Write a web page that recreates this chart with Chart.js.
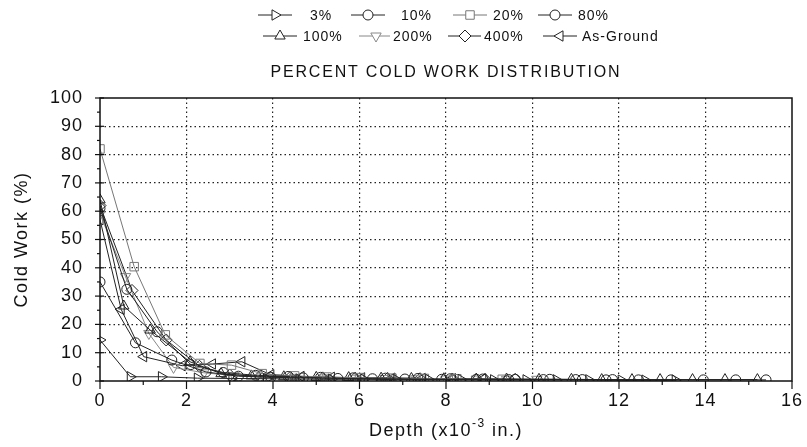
<!DOCTYPE html>
<html>
<head>
<meta charset="utf-8">
<script src="https://cdn.jsdelivr.net/npm/chart.js@4/dist/chart.umd.min.js"></script>
<style>
  body { margin: 0; background: #fff; }
  #wrap { width: 807px; height: 447px; }
</style>
</head>
<body>
<div id="wrap"><canvas id="chart" width="807" height="447"></canvas></div>
<script>
// depth (x10^-3 in.), cold work (%) pairs
const cw3 = [[0,14.5],[0.7,1.5],[1.42,1.5],[2.25,1.0],[3.05,0.9],[3.85,0.8],[4.6,0.7],[5.35,0.6],[6.1,0.6],[6.85,0.5],[7.6,0.5],[8.35,0.5],[9.1,0.4],[9.85,0.4],[10.55,0.4],[11.3,0.4],[12.05,0.3],[12.6,0.3],[13.3,0.3]];
const cw10 = [[0,35],[0.82,13.5],[1.66,7.4],[2.45,3.2],[3.2,1.7],[3.95,1.3],[4.7,1.1],[5.5,0.9],[6.3,0.8],[7.05,0.7],[7.9,0.6],[8.7,0.6],[9.45,0.5],[10.25,0.5],[11.0,0.5],[11.7,0.4],[12.45,0.4],[13.2,0.4],[13.95,0.4],[14.7,0.4],[15.4,0.4]];
const cw20 = [[0,82],[0.79,40.4],[1.51,16.3],[2.31,6.2],[3.04,5.6],[3.75,2.6],[4.5,1.8],[5.25,1.4],[6.0,1.2],[6.75,1.0],[7.5,0.9],[8.25,0.8],[9.3,0.6]];
const cw80 = [[0,61],[0.62,32.4],[1.32,17.4],[2.1,5.8],[2.85,3.0],[3.6,2.0],[4.35,1.6],[5.1,1.3],[5.85,1.1],[6.6,1.0],[7.35,0.9],[8.1,0.8],[8.85,0.7],[9.6,0.6],[10.4,0.6],[11.15,0.5],[11.85,0.5]];
const cw100 = [[0,64],[0.55,26.5],[1.16,18],[2.08,6.8],[2.8,2.6],[3.5,1.8],[4.25,1.5],[5.0,1.3],[5.75,1.2],[6.5,1.0],[7.2,0.9],[7.95,0.8],[8.7,0.7],[9.4,0.7],[10.15,0.6],[10.9,0.6],[11.6,0.5],[12.3,0.5],[12.95,0.5],[13.7,0.5],[14.45,0.5],[15.2,0.5]];
const cw200 = [[0,59],[0.59,36.9],[1.13,16.8],[1.7,4.8],[2.4,2.9],[3.1,1.9],[3.8,1.5],[4.5,1.3],[5.2,1.1],[5.9,1.0],[6.6,0.9],[7.3,0.8],[8.0,0.7],[8.7,0.7],[9.4,0.6],[10.1,0.6]];
const cw400 = [[0,62],[0.74,32],[1.53,14.5],[2.3,5.2],[3.0,2.1],[3.7,1.6],[4.4,1.3],[5.15,1.1],[5.9,1.0],[6.65,0.9],[7.4,0.8],[8.15,0.7],[8.9,0.6],[9.6,0.6]];
const cwAsGround = [[0,57],[0.49,25.3],[1.01,8.6],[1.9,5.4],[2.6,6.0],[3.28,6.8],[3.95,2.2],[4.65,1.6],[5.35,1.3],[6.05,1.1],[6.75,1.0],[7.45,0.9],[8.15,0.8],[8.85,0.7]];

const seriesLabels = ['3%', '10%', '20%', '80%', '100%', '200%', '400%', 'As-Ground'];
const seriesData = [cw3, cw10, cw20, cw80, cw100, cw200, cw400, cwAsGround];
const xTicks = [0, 2, 4, 6, 8, 10, 12, 14, 16];
const yTicks = [0, 10, 20, 30, 40, 50, 60, 70, 80, 90, 100];

// marker look per series
const looks = [
  { style: 'triangle', rot: 90, r: 6, color: '#222' },
  { style: 'circle', rot: 0, r: 5, color: '#222' },
  { style: 'rect', rot: 0, r: 6, color: '#777' },
  { style: 'circle', rot: 0, r: 5, color: '#222' },
  { style: 'triangle', rot: 0, r: 6, color: '#222' },
  { style: 'triangle', rot: 180, r: 6, color: '#888' },
  { style: 'rectRot', rot: 0, r: 6, color: '#222' },
  { style: 'triangle', rot: -90, r: 6, color: '#222' }
];

// legend slots: [marker x, text x, row y]
const legendSlots = [
  [275, 310, 15], [368, 401, 15], [470, 493, 15], [555, 578, 15],
  [280, 303, 36], [376, 393, 36], [465, 484, 36], [560, 582, 36]
];

const FONT = '"Liberation Sans", Arial, sans-serif';

const datasets = seriesData.map((d, i) => ({
  label: seriesLabels[i],
  data: d,
  showLine: true,
  clip: 0,
  borderColor: looks[i].color,
  borderWidth: 1,
  pointStyle: looks[i].style,
  rotation: looks[i].rot,
  pointRadius: looks[i].r,
  pointBorderWidth: 1,
  pointBorderColor: looks[i].color,
  pointBackgroundColor: 'rgba(255,255,255,0)'
}));

function gridColor(ctx) {
  const v = ctx.tick.value;
  const max = ctx.scale.max;
  return v > 0 && v < max ? '#222' : 'rgba(0,0,0,0)';
}

function line(ctx, x1, y1, x2, y2) {
  ctx.beginPath();
  ctx.moveTo(x1, y1);
  ctx.lineTo(x2, y2);
  ctx.stroke();
}

const decor = {
  id: 'decor',
  beforeDraw(chart) {
    chart.ctx.letterSpacing = '1px';
  },
  afterDraw(chart) {
    const { ctx, chartArea: a, scales: { x, y } } = chart;
    ctx.save();
    ctx.fillStyle = '#111';
    ctx.strokeStyle = '#111';

    // frame
    ctx.lineWidth = 1.5;
    ctx.strokeRect(a.left, a.top, a.right - a.left, a.bottom - a.top);

    // ticks
    ctx.lineWidth = 1.2;
    for (let v = 0; v <= 16; v++) {
      const px = x.getPixelForValue(v);
      line(ctx, px, a.bottom, px, a.bottom + (v % 2 ? 4 : 8));
    }
    for (let v = 0; v <= 100; v += 5) {
      const py = y.getPixelForValue(v);
      if (v % 10) line(ctx, a.left - 3, py, a.left, py);
      else line(ctx, a.left - 5, py, a.left + 4, py);
    }

    // title
    ctx.letterSpacing = '1.8px';
    ctx.font = '16px ' + FONT;
    ctx.textAlign = 'center';
    ctx.textBaseline = 'middle';
    ctx.fillText('PERCENT COLD WORK DISTRIBUTION', (a.left + a.right) / 2, 73);

    // y axis title
    ctx.letterSpacing = '1.5px';
    ctx.font = '18px ' + FONT;
    ctx.save();
    ctx.translate(22, (a.top + a.bottom) / 2);
    ctx.rotate(-Math.PI / 2);
    ctx.fillText('Cold Work (%)', 0, 0);
    ctx.restore();

    // x axis title with superscript
    ctx.textAlign = 'left';
    ctx.letterSpacing = '1.5px';
    const parts = [['Depth (x10', 18, 0], ['-3', 12, -7], [' in.)', 18, 0]];
    let total = 0;
    parts.forEach(p => { ctx.font = p[1] + 'px ' + FONT; total += ctx.measureText(p[0]).width; });
    let cx = (a.left + a.right) / 2 - total / 2;
    parts.forEach(p => {
      ctx.font = p[1] + 'px ' + FONT;
      ctx.fillText(p[0], cx, 431 + p[2]);
      cx += ctx.measureText(p[0]).width;
    });

    // legend
    ctx.letterSpacing = '1px';
    ctx.font = '14px ' + FONT;
    legendSlots.forEach((s, i) => {
      const [mx, tx, ly] = s;
      const c = looks[i].color;
      ctx.strokeStyle = c;
      ctx.lineWidth = 1;
      line(ctx, mx - 17, ly, Math.min(mx + 17, tx - 3), ly);
      ctx.fillStyle = '#fff';
      Chart.helpers.drawPoint(ctx, { pointStyle: looks[i].style, rotation: looks[i].rot, radius: looks[i].r, borderWidth: 1 }, mx, ly);
      ctx.fillStyle = '#111';
      ctx.fillText(seriesLabels[i], tx, ly + 1);
    });
    ctx.restore();
  }
};

new Chart(document.getElementById('chart'), {
  type: 'scatter',
  data: { datasets },
  options: {
    responsive: false,
    animation: false,
    layout: { padding: { top: 98, right: 15, left: 0, bottom: 0 } },
    plugins: { legend: { display: false }, title: { display: false }, tooltip: { enabled: false } },
    scales: {
      x: {
        type: 'linear',
        min: 0,
        max: 16,
        afterBuildTicks: s => { s.ticks = xTicks.map(v => ({ value: v })); },
        afterFit: s => { s.height = 66; },
        grid: { color: gridColor, lineWidth: 1.2, tickLength: 8, tickColor: 'rgba(0,0,0,0)' },
        border: { display: false, dash: [1.5, 3] },
        ticks: { color: '#111', padding: 1, maxRotation: 0, font: { family: FONT, size: 18 } }
      },
      y: {
        min: 0,
        max: 100,
        afterBuildTicks: s => { s.ticks = yTicks.map(v => ({ value: v })); },
        afterFit: s => { s.width = 100; },
        grid: { color: gridColor, lineWidth: 1.2, tickLength: 6, tickColor: 'rgba(0,0,0,0)' },
        border: { display: false, dash: [1.5, 3] },
        ticks: { color: '#111', padding: 11, font: { family: FONT, size: 18 } }
      }
    }
  },
  plugins: [decor]
});
</script>
</body>
</html>
